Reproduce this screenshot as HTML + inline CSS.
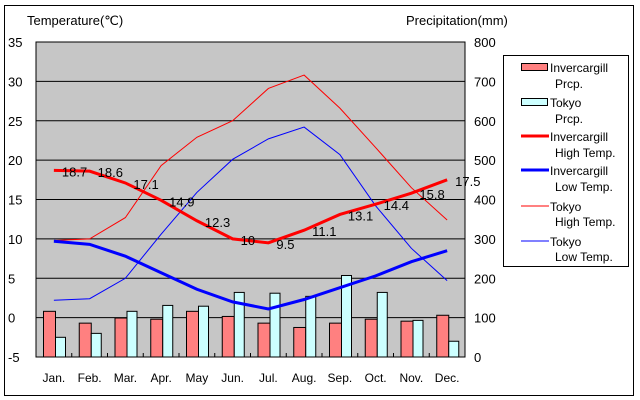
<!DOCTYPE html>
<html><head><meta charset="utf-8"><style>
body{margin:0;background:#fff}
svg{display:block;font-family:"Liberation Sans",sans-serif}
</style></head><body>
<svg id="chart" width="640" height="400" viewBox="0 0 640 400" xmlns="http://www.w3.org/2000/svg">
<rect x="4.5" y="5.5" width="629" height="390" fill="#fff" stroke="#000"/>
<rect x="36" y="42" width="429" height="315" fill="#c6c6c6" stroke="#000"/>
<g id="grid"></g><g id="bars"></g><g id="lines"></g><g id="labels"></g><g id="axes"></g>
<text x="27" y="25" font-size="13">Temperature(℃)</text>
<text x="406" y="25" font-size="13">Precipitation(mm)</text>
<g font-size="12">
<rect x="503.5" y="55.5" width="125" height="211" fill="#fff" stroke="#000"/>
<rect x="521.5" y="63.5" width="26" height="7" fill="#ff8080" stroke="#000"/>
<text x="550" y="72">Invercargill</text><text x="555" y="88">Prcp.</text>
<rect x="521.5" y="98.5" width="26" height="7" fill="#ccffff" stroke="#000"/>
<text x="550" y="107">Tokyo</text><text x="555" y="123">Prcp.</text>
<line x1="521" y1="136" x2="549" y2="136" stroke="#f00" stroke-width="3"/>
<text x="550" y="141">Invercargill</text><text x="555" y="157">High Temp.</text>
<line x1="521" y1="170" x2="549" y2="170" stroke="#00f" stroke-width="3"/>
<text x="550" y="175">Invercargill</text><text x="555" y="191">Low Temp.</text>
<line x1="521" y1="206" x2="549" y2="206" stroke="#f00" stroke-width="1"/>
<text x="550" y="211">Tokyo</text><text x="555" y="226">High Temp.</text>
<line x1="521" y1="241" x2="549" y2="241" stroke="#00f" stroke-width="1"/>
<text x="550" y="246">Tokyo</text><text x="555" y="261">Low Temp.</text>
</g>
</svg>
<script>
const months=["Jan.","Feb.","Mar.","Apr.","May","Jun.","Jul.","Aug.","Sep.","Oct.","Nov.","Dec."];
const invPrcp=[116,86,99,96,116,103,86,75,86,96,91,106];
const tokPrcp=[50,60,116,131,129,164,162,154,207,164,93,40];
const invHigh=[18.7,18.6,17.1,14.9,12.3,10,9.5,11.1,13.1,14.4,15.8,17.5];
const invLow=[9.7,9.3,7.8,5.7,3.6,2.0,1.1,2.3,3.8,5.3,7.1,8.5];
const tokHigh=[9.8,10.0,12.7,19.3,22.9,25.0,29.1,30.8,26.6,21.6,16.5,12.4];
const tokLow=[2.2,2.4,5.0,10.6,15.9,20.1,22.7,24.2,20.7,14.2,8.8,4.7];
const tempTicks=[35,30,25,20,15,10,5,0,-5];
const prcpTicks=[800,700,600,500,400,300,200,100,0];
const NS="http://www.w3.org/2000/svg";
const L=36,R=465,T=42,B=357,slot=(R-L)/12;
const xC=i=>L+slot*(i+0.5);
const yT=t=>B-(t+5)/40*(B-T);
const yP=p=>B-p/800*(B-T);
function mk(tag,attrs,parent){const e=document.createElementNS(NS,tag);for(const k in attrs)e.setAttribute(k,attrs[k]);document.getElementById(parent).appendChild(e);return e;}
tempTicks.forEach(t=>{
 if(t>-5&&t<35){const g=mk('line',{x1:L,x2:R,y1:yT(t),y2:yT(t),stroke:'#000'},'grid');
 
 }
 const tx=mk('text',{x:8,y:yT(t)+5,'font-size':13},'axes');tx.textContent=t;
 
 
});
prcpTicks.forEach(p=>{
 const tx=mk('text',{x:474,y:yP(p)+5,'font-size':13},'axes');tx.textContent=p;
 
 
});
months.forEach((m,i)=>{
 const tx=mk('text',{x:xC(i),y:382,'font-size':12,'text-anchor':'middle'},'axes');tx.textContent=m;
 
 
 if(i>0){const tk=mk('line',{x1:L+slot*i,x2:L+slot*i,y1:B-4,y2:B,stroke:'#000'},'axes');
 
 }
 const x0=L+slot*i+7;
 const b1=mk('rect',{x:x0+0.5,y:yP(invPrcp[i]),width:12,height:B-yP(invPrcp[i]),fill:'#ff8080',stroke:'#000'},'bars');
 
 
 const b2=mk('rect',{x:x0+12.5,y:yP(tokPrcp[i]),width:10,height:B-yP(tokPrcp[i]),fill:'#ccffff',stroke:'#000'},'bars');
 
 
});
function line(arr,color,w,name){
 const pl=mk('polyline',{points:arr.map((v,i)=>xC(i)+','+yT(v)).join(' '),fill:'none',stroke:color,'stroke-width':w},'lines');
 
 
}
line(tokHigh,'#f00',1,'line-tokyo-high');
line(tokLow,'#00f',1,'line-tokyo-low');
line(invHigh,'#f00',3,'line-invercargill-high');
line(invLow,'#00f',3,'line-invercargill-low');
invHigh.forEach((v,i)=>{
 const tx=mk('text',{x:xC(i)+8,y:yT(v)+6,'font-size':13},'labels');tx.textContent=v;
 
 
});
</script>
</body></html>
